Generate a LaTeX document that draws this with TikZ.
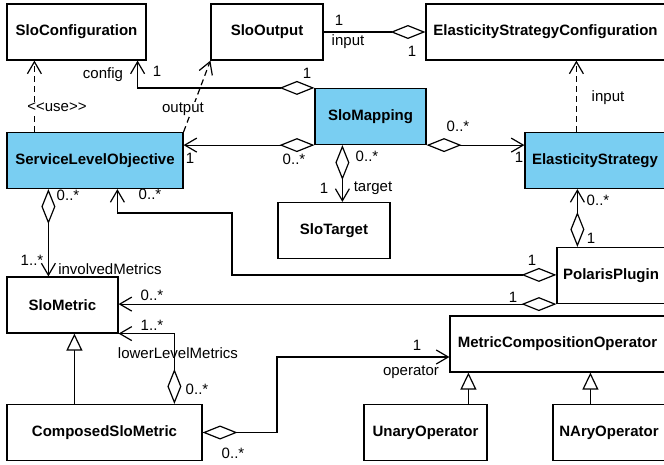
\documentclass[tikz,border=0pt]{standalone}
\usepackage{fontspec}
\setmainfont{Liberation Sans}
\usetikzlibrary{arrows.meta}
\definecolor{umlblue}{RGB}{121,206,242}

\begin{document}
\begin{tikzpicture}[x=1pt, y=-1pt, line width=1.2pt,
    every node/.style={font=\fontsize{15}{18}\selectfont},
    cls/.style={draw, rectangle, inner sep=0pt, minimum height=56pt, font=\fontsize{15}{18}\selectfont\bfseries},
    hi/.style={cls, fill=umlblue},
    lbl/.style={inner sep=1pt},
    agg/.style={{Diamond[fill=white, length=35pt, width=14pt]}-{Straight Barb[length=12pt, width=14pt]}},
    dep/.style={dash pattern=on 6pt off 4pt, -{Straight Barb[length=12pt, width=14pt]}},
    inh/.style={-{Triangle[fill=white, length=17pt, width=16pt]}}]
    \useasboundingbox (0,0) rectangle (664,464);
    \clip (0,0) rectangle (664,464);

    \node[cls, minimum width=139pt] (cfg) at (76.5,32) {SloConfiguration};
    \node[cls, minimum width=112pt] (out) at (267,32) {SloOutput};
    \node[cls, minimum width=239pt] (esc) at (545.5,32) {ElasticityStrategyConfiguration};
    \node[hi, minimum width=111pt] (map) at (370.5,116.5) {SloMapping};
    \node[hi, minimum width=176pt] (slo) at (95,160.5) {ServiceLevelObjective};
    \node[hi, minimum width=140pt] (es) at (595,160.5) {ElasticityStrategy};
    \node[cls, minimum width=112pt] (tgt) at (334,230.5) {SloTarget};
    \node[cls, minimum width=108pt] (pp) at (611,275.5) {PolarisPlugin};
    \node[cls, minimum width=111pt] (met) at (62.5,305) {SloMetric};
    \node[cls, minimum width=215pt] (mco) at (557.5,344) {MetricCompositionOperator};
    \node[cls, minimum width=195pt] (csm) at (104.5,432.5) {ComposedSloMetric};
    \node[cls, minimum width=123pt] (uop) at (425.5,432.5) {UnaryOperator};
    \node[cls, minimum width=112pt] (nop) at (609,432.5) {NAryOperator};

    \coordinate (b1) at (232,213);
    \coordinate (b2) at (277,357);

    % associations
    \draw[agg] (map.north west) -| ([xshift=-9pt]cfg.south east);
    \draw[agg] (map.south west) -- (map.south west -| slo.east);
    \draw[{Diamond[fill=white, length=35pt, width=14pt]}-] (esc.west) -- (out.east);
    \draw[agg] (map.south east) -- (map.south east -| es.west);
    \draw[agg] ([xshift=28pt]map.south west) -- ([xshift=65pt]tgt.north west);
    \draw[agg] ([xshift=21pt]pp.north west) -- ([xshift=53pt]es.south west);
    \draw[agg] ([yshift=-28pt]pp.north west) -| (b1) -| ([xshift=111pt]slo.south west);
    \draw[agg] (pp.south west) -- (pp.south west -| met.east);
    \draw[agg] ([xshift=42pt]slo.south west) -- ([xshift=42pt]met.north west);
    \draw[agg] ([xshift=168pt]csm.north west) |- (met.south east);
    \draw[agg] (csm.east) -| (b2) -- (b2 -| mco.west);

    % dependencies
    \draw[dep] ([xshift=28pt]slo.north west) -- ([xshift=28pt]cfg.south west);
    \draw[dep] (slo.north east) -- (out.south west);
    \draw[dep] ([xshift=52pt]es.north west) -- ([xshift=151pt]esc.south west);

    % generalisations
    \draw[inh] ([xshift=68pt]csm.north west) -- ([xshift=68pt]met.south west);
    \draw[inh] ([xshift=105pt]uop.north west) -- ([xshift=19pt]mco.south west);
    \draw[inh] ([xshift=38pt]nop.north west) -- ([xshift=141pt]mco.south west);

    % role names and multiplicities
    \node[lbl] (m1) at (307,73) {1};
    \node[lbl] (r1) at (103,75) {config};
    \node[lbl] (m2) at (157,71) {1};
    \node[lbl, fill=white] (r2) at (57,107) {<\kern0pt<use>\kern0pt>};
    \node[lbl, fill=white] (r3) at (183,109) {output};
    \node[lbl] (m3) at (190,158) {1};
    \node[lbl] (m4) at (294,159) {0..*};
    \node[lbl] (m5) at (339,20) {1};
    \node[lbl] (r4) at (348,42) {input};
    \node[lbl] (m6) at (412,51) {1};
    \node[lbl] (r5) at (608,98) {input};
    \node[lbl] (m7) at (458,126) {0..*};
    \node[lbl] (m8) at (519,157) {1};
    \node[lbl] (m9) at (367,156) {0..*};
    \node[lbl] (m10) at (324,188) {1};
    \node[lbl] (r6) at (373,188) {target};
    \node[lbl] (m11) at (598,200) {0..*};
    \node[lbl] (m12) at (591,238) {1};
    \node[lbl] (m13) at (532,260) {1};
    \node[lbl] (m14) at (513,297) {1};
    \node[lbl] (m15) at (150,194) {0..*};
    \node[lbl] (m16) at (68,195) {0..*};
    \node[lbl] (m17) at (32,260) {1..*};
    \node[lbl] (r7) at (110,269) {involvedMetrics};
    \node[lbl] (m18) at (152,295) {0..*};
    \node[lbl] (m19) at (152,325) {1..*};
    \node[lbl] (r8) at (178,353) {lowerLevelMetrics};
    \node[lbl] (m20) at (197,389) {0..*};
    \node[lbl] (m21) at (233,453) {0..*};
    \node[lbl] (m22) at (417,345) {1};
    \node[lbl] (r9) at (411,372) {operator};
\end{tikzpicture}
\end{document}
